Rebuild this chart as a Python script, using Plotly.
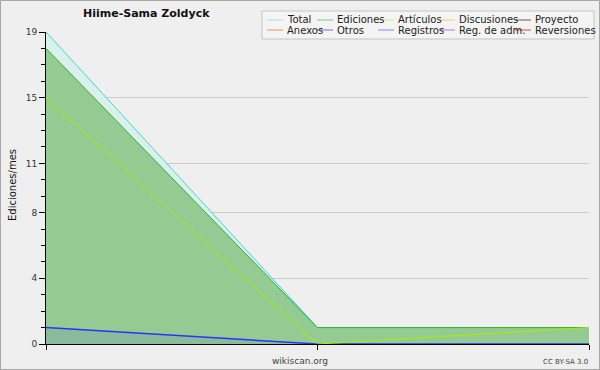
import plotly.graph_objects as go

# ---- data ----
months = [0, 1, 2]
total = [19, 1, 1]
ediciones = [18, 1, 1]
articulos = [15, 0, 1]
registros = [1, 0, 0]

y_ticks = [0, 4, 8, 11, 15, 19]
legend_names = ["Total", "Ediciones", "Artículos", "Discusiones", "Proyecto",
                "Anexos", "Otros", "Registros", "Reg. de adm.", "Reversiones"]
legend_colors = ["#a8e4e4", "#80c880", "#c8f080", "#f0d070", "#606060",
                 "#f09060", "#9060d0", "#8888f0", "#c070e0", "#e04848"]

title_text = "Hiime-Sama Zoldyck"
y_title = "Ediciones/mes"

# ---- layout helpers (pixel -> paper) ----
W, H = 600, 370
PL, PR, PT, PB = 46, 589, 32, 344
def px(x):
    return (x - PL) / (PR - PL)
def py(y):
    return (PB - y) / (PB - PT)

BG = "#efefef"
FONT = "DejaVu Sans"

fig = go.Figure()
fig.add_trace(go.Scatter(x=months, y=total, mode="lines", name="Total",
                         line=dict(color="#3fd6d0", width=1),
                         fill="tozeroy", fillcolor="#d9f1ea", showlegend=False))
fig.add_trace(go.Scatter(x=months, y=ediciones, mode="lines", name="Ediciones",
                         line=dict(color="#33b033", width=1),
                         fill="tozeroy", fillcolor="#93cb93", showlegend=False))
fig.add_trace(go.Scatter(x=months, y=registros, mode="lines", name="Registros",
                         line=dict(color="#2535ff", width=1.5),
                         fill="tozeroy", fillcolor="rgba(60,60,230,0.1)", showlegend=False))
fig.add_trace(go.Scatter(x=months, y=articulos, mode="lines", name="Artículos",
                         line=dict(color="#a8f000", width=1), showlegend=False))

shapes = []
annotations = []

# outer border
shapes.append(dict(type="rect", xref="paper", yref="paper",
                   x0=px(0.5), x1=px(599.5), y0=py(0.5), y1=py(369.5),
                   line=dict(color="#a8a8a8", width=1), layer="below"))

# legend box
shapes.append(dict(type="rect", xref="paper", yref="paper",
                   x0=px(262), x1=px(594), y0=py(11), y1=py(39),
                   fillcolor="#f4f4f4", line=dict(color="#c4c4c4", width=1)))
col_text_x = [285, 335, 396, 457, 533]
row_y = [20, 30]
for i, (name, color) in enumerate(zip(legend_names, legend_colors)):
    r, c = divmod(i, 5)
    tx = col_text_x[c]
    yy = row_y[r]
    shapes.append(dict(type="line", xref="paper", yref="paper",
                       x0=px(tx - 18), x1=px(tx - 2), y0=py(yy), y1=py(yy),
                       line=dict(color=color, width=1)))
    annotations.append(dict(text=name, xref="paper", yref="paper",
                            x=px(tx), y=py(yy), xanchor="left", yanchor="middle",
                            showarrow=False,
                            font=dict(family=FONT, size=10, color="#222")))

# title
annotations.append(dict(text="<b>" + title_text + "</b>", xref="paper", yref="paper",
                        x=px(146), y=py(14), xanchor="center", yanchor="middle",
                        showarrow=False, font=dict(family=FONT, size=11, color="#111")))
# footer texts
annotations.append(dict(text="wikiscan.org", xref="paper", yref="paper",
                        x=px(300), y=py(361), xanchor="center", yanchor="middle",
                        showarrow=False, font=dict(family=FONT, size=9, color="#444")))
annotations.append(dict(text="CC BY-SA 3.0", xref="paper", yref="paper",
                        x=px(590), y=py(362), xanchor="right", yanchor="middle",
                        showarrow=False, font=dict(family=FONT, size=7, color="#444")))
# y-axis title
annotations.append(dict(text=y_title, xref="paper", yref="paper",
                        x=px(12), y=py(185), xanchor="center", yanchor="middle",
                        textangle=-90, showarrow=False,
                        font=dict(family=FONT, size=10, color="#111")))

fig.update_layout(
    width=W, height=H, autosize=False,
    margin=dict(l=PL, r=W - PR, t=PT, b=H - PB, pad=0),
    paper_bgcolor=BG, plot_bgcolor=BG,
    font=dict(family=FONT, size=9, color="#333"),
    showlegend=False,
    shapes=shapes, annotations=annotations,
    xaxis=dict(range=[0, 2], tickvals=months, showticklabels=False,
               ticks="outside", ticklen=5, tickcolor="#000",
               showline=True, linecolor="#000", linewidth=1,
               showgrid=False, zeroline=False, fixedrange=True),
    yaxis=dict(range=[0, 19], tickvals=y_ticks,
               ticks="outside", ticklen=6, tickcolor="#000",
               showline=True, linecolor="#000", linewidth=1,
               showgrid=True, gridcolor="#cccccc", gridwidth=1,
               zeroline=False, fixedrange=True,
               tickfont=dict(family=FONT, size=9, color="#333"),
               minor=dict(tickvals=list(range(0, 20)), ticks="outside",
                          ticklen=4, tickcolor="#000", showgrid=False)),
)

fig.write_html("out.html", config={"displayModeBar": False},
               post_script="document.body.style.margin='0';")
